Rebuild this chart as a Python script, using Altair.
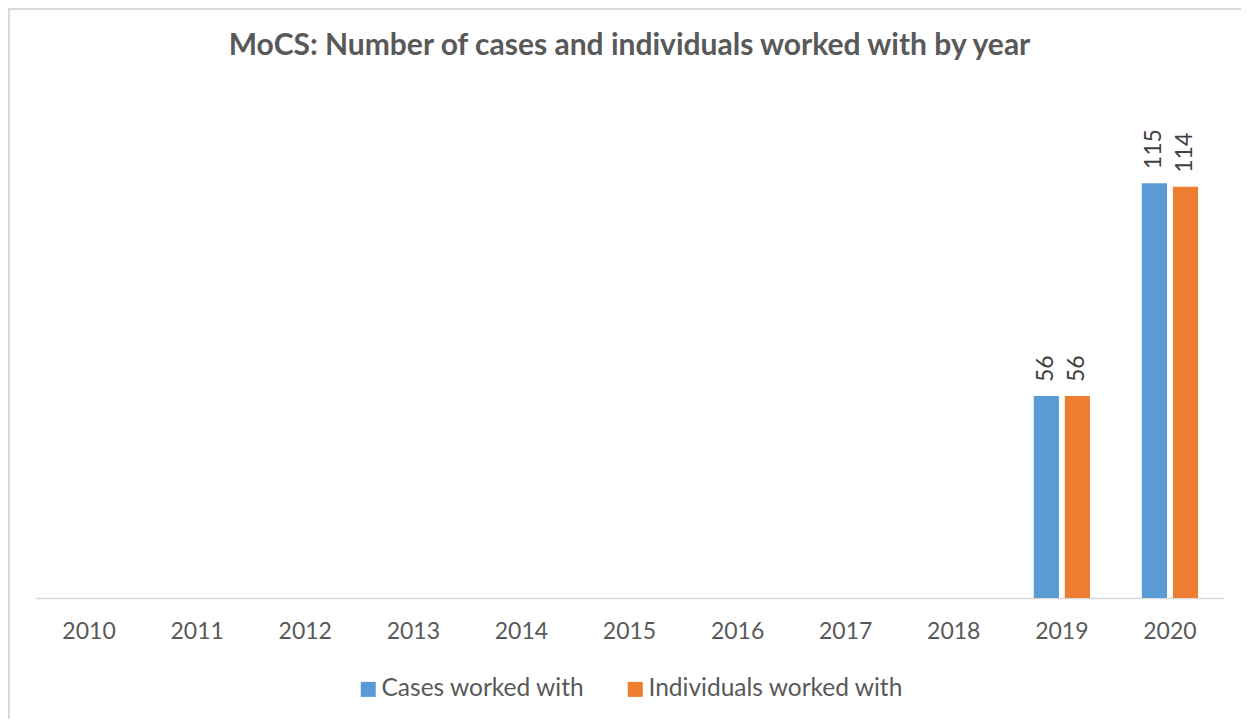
import altair as alt
import pandas as pd

years = ["2010", "2011", "2012", "2013", "2014", "2015", "2016", "2017", "2018", "2019", "2020"]
series = ["Cases worked with", "Individuals worked with"]
cases = [None, None, None, None, None, None, None, None, None, 56, 115]
individuals = [None, None, None, None, None, None, None, None, None, 56, 114]
colors = ["#5B9BD5", "#ED7D31"]

rows = []
for name, vals in zip(series, [cases, individuals]):
    for y, v in zip(years, vals):
        if v is not None:
            rows.append({"year": y, "series": name, "value": v})
df = pd.DataFrame(rows)

FONT = "Lato"
W, H = 1189, 505

x = alt.X("year:N", scale=alt.Scale(domain=years, paddingInner=0.48, paddingOuter=0.24),
          axis=alt.Axis(title=None, labelAngle=0, ticks=False, labelFontSize=23,
                        labelColor="#595959", labelFont=FONT, labelPadding=22,
                        domainColor="#d9d9d9", domainWidth=1.5))
y = alt.Y("value:Q", scale=alt.Scale(domain=[0, 140]), axis=None)
xoff = alt.XOffset("series:N", scale=alt.Scale(domain=series, paddingInner=0.19, paddingOuter=0))

bars = alt.Chart(df).mark_bar().encode(
    x=x, y=y, xOffset=xoff,
    color=alt.Color("series:N", scale=alt.Scale(domain=series, range=colors),
                    legend=alt.Legend(title=None, orient="none", legendX=321, legendY=584,
                                      direction="horizontal", symbolType="square",
                                      symbolSize=225, symbolStrokeWidth=0,
                                      labelFontSize=24.5, labelFont=FONT, labelColor="#595959",
                                      labelOffset=1, columnPadding=38, labelLimit=400))
)

labels = alt.Chart(df).mark_text(angle=270, align="left", baseline="middle", dx=14,
                                 fontSize=23, font=FONT, color="#404040").encode(
    x=x, y=y, xOffset=xoff, text="value:Q"
)

frame_left = alt.Chart(alt.Data(values=[{}])).mark_rule(color="#d9d9d9", strokeWidth=2).encode(
    x=alt.value(-26), y=alt.value(-85), y2=alt.value(H + 121)
)
frame_top = alt.Chart(alt.Data(values=[{}])).mark_rule(color="#d9d9d9", strokeWidth=2).encode(
    x=alt.value(-26), x2=alt.value(W + 17), y=alt.value(-84)
)

chart = alt.layer(bars, labels, frame_left, frame_top).properties(
    width=W, height=H,
    title=alt.TitleParams("MoCS: Number of cases and individuals worked with by year",
                          anchor="middle", frame="group", fontSize=30, font=FONT,
                          fontWeight="bold", color="#595959", offset=-54),
    autosize=alt.AutoSizeParams(type="none"),
    padding={"left": 27, "top": 85, "right": 17, "bottom": 121},
).configure_view(stroke=None)

chart.save("out.html", embed_options={"renderer": "svg", "actions": False})
